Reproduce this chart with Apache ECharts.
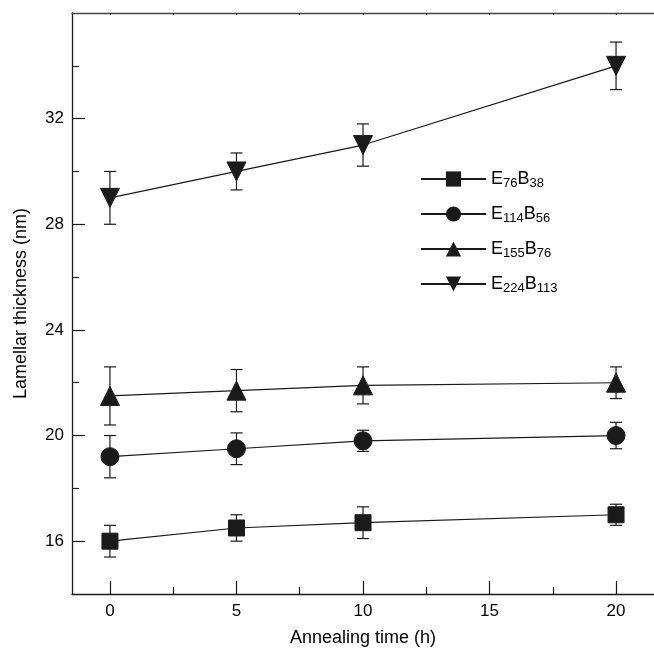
<!DOCTYPE html>
<html>
<head>
<meta charset="utf-8">
<script src="https://cdn.jsdelivr.net/npm/echarts@6/dist/echarts.min.js"></script>
<style>
html,body{margin:0;padding:0;background:#fff;}
#chart{width:654px;height:652px;}
</style>
</head>
<body>
<div id="chart"></div>
<script>
// ---- data ----
const times = [0, 5, 10, 20];
const seriesNames = ['E76B38', 'E114B56', 'E155B76', 'E224B113'];
const legendParts = [['76','38'], ['114','56'], ['155','76'], ['224','113']];
const e76b38 = [16.0, 16.5, 16.7, 17.0];
const e76b38Err = [0.6, 0.5, 0.6, 0.4];
const e114b56 = [19.2, 19.5, 19.8, 20.0];
const e114b56Err = [0.8, 0.6, 0.4, 0.5];
const e155b76 = [21.5, 21.7, 21.9, 22.0];
const e155b76Err = [1.1, 0.8, 0.7, 0.6];
const e224b113 = [29.0, 30.0, 31.0, 34.0];
const e224b113Err = [1.0, 0.7, 0.8, 0.9];
const xTicks = [0, 5, 10, 15, 20];
const xMinorTicks = [2.5, 7.5, 12.5, 17.5];
const yTicks = [16, 20, 24, 28, 32];
const yMinorTicks = [18, 22, 26, 30, 34];

const values = [e76b38, e114b56, e155b76, e224b113];
const errors = [e76b38Err, e114b56Err, e155b76Err, e224b113Err];
const symbols = ['rect', 'circle', 'triangle', 'triangle'];
const rotations = [0, 0, 0, 180];
const sizes = [16, 18, 19, 19];

const chart = echarts.init(document.getElementById('chart'), null, {renderer: 'canvas'});
const INK = '#1a1a1a';
const FONT = 'Liberation Sans, Arial, sans-serif';

const series = [];
values.forEach((vals, i) => {
  const errData = times.map((t, j) => [t, vals[j] - errors[i][j], vals[j] + errors[i][j]]);
  series.push({
    type: 'custom',
    name: seriesNames[i] + '_err',
    xAxisIndex: 0, yAxisIndex: 0,
    clip: false,
    z: 1,
    silent: true,
    renderItem: function (params, api) {
      const x = api.value(0);
      const lo = api.coord([x, api.value(1)]);
      const hi = api.coord([x, api.value(2)]);
      const cw = 6;
      const st = {stroke: INK, lineWidth: 1.2};
      return {
        type: 'group',
        children: [
          {type: 'line', shape: {x1: lo[0], y1: lo[1], x2: hi[0], y2: hi[1]}, style: st},
          {type: 'line', shape: {x1: lo[0]-cw, y1: lo[1], x2: lo[0]+cw, y2: lo[1]}, style: st},
          {type: 'line', shape: {x1: hi[0]-cw, y1: hi[1], x2: hi[0]+cw, y2: hi[1]}, style: st}
        ]
      };
    },
    data: errData
  });
  series.push({
    type: 'line',
    name: seriesNames[i],
    xAxisIndex: 0, yAxisIndex: 0,
    z: 3,
    data: times.map((t, j) => [t, vals[j]]),
    symbol: symbols[i],
    symbolRotate: rotations[i],
    symbolSize: sizes[i],
    showAllSymbol: true,
    itemStyle: {color: INK, borderColor: INK},
    lineStyle: {color: INK, width: 1.2},
    emphasis: {disabled: true},
    animation: false
  });
});

const labelStyle = {color: '#000', fontSize: 17, fontFamily: FONT};

const option = {
  animation: false,
  backgroundColor: '#fff',
  textStyle: {fontFamily: FONT},
  grid: {left: 72, top: 13, width: 583, bottom: 57, containLabel: false},
  legend: {
    orient: 'vertical',
    left: 415,
    top: 165,
    itemWidth: 65,
    itemHeight: 19,
    itemGap: 15,
    data: seriesNames,
    textStyle: {
      color: '#000',
      fontSize: 18,
      fontFamily: FONT,
      rich: {
        b: {fontSize: 18, color: '#000', fontFamily: FONT},
        s: {fontSize: 13, color: '#000', fontFamily: FONT, padding: [9, 0, 0, 0]}
      }
    },
    formatter: function (name) {
      const k = seriesNames.indexOf(name);
      const p = legendParts[k];
      return '{b|E}{s|' + p[0] + '}{b|B}{s|' + p[1] + '}';
    }
  },
  xAxis: [
    {
      type: 'value', min: -1.5, max: 21.5, position: 'bottom',
      name: 'Annealing time (h)', nameLocation: 'middle', nameGap: 35,
      nameTextStyle: {color: '#000', fontSize: 18, fontFamily: FONT},
      axisLine: {show: true, onZero: false, lineStyle: {color: INK, width: 1.3}},
      axisTick: {show: true, inside: true, length: 13, lineStyle: {color: INK, width: 1.2}, customValues: xTicks},
      axisLabel: Object.assign({margin: 9, customValues: xTicks}, labelStyle),
      splitLine: {show: false}
    },
    {
      type: 'value', min: -1.5, max: 21.5, position: 'bottom',
      axisLine: {show: false, onZero: false},
      axisTick: {show: true, inside: true, length: 7, lineStyle: {color: INK, width: 1.2}, customValues: xMinorTicks},
      axisLabel: {show: false},
      splitLine: {show: false}
    },
    {
      type: 'value', min: -1.5, max: 21.5, position: 'top',
      axisLine: {show: true, onZero: false, lineStyle: {color: '#444', width: 1.3}},
      axisTick: {show: true, inside: true, length: 2, lineStyle: {color: INK, width: 1.2}, customValues: xTicks.concat(xMinorTicks)},
      axisLabel: {show: false},
      splitLine: {show: false}
    }
  ],
  yAxis: [
    {
      type: 'value', min: 14, max: 36, position: 'left',
      name: 'Lamellar thickness (nm)', nameLocation: 'middle', nameGap: 42,
      nameTextStyle: {color: '#000', fontSize: 18, fontFamily: FONT},
      axisLine: {show: true, onZero: false, lineStyle: {color: INK, width: 1.3}},
      axisTick: {show: true, inside: true, length: 13, lineStyle: {color: INK, width: 1.2}, customValues: yTicks},
      axisLabel: Object.assign({margin: 8, customValues: yTicks}, labelStyle),
      splitLine: {show: false}
    },
    {
      type: 'value', min: 14, max: 36, position: 'left',
      axisLine: {show: false, onZero: false},
      axisTick: {show: true, inside: true, length: 7, lineStyle: {color: INK, width: 1.2}, customValues: yMinorTicks},
      axisLabel: {show: false},
      splitLine: {show: false}
    }
  ],
  series: series
};

chart.setOption(option);
</script>
</body>
</html>
